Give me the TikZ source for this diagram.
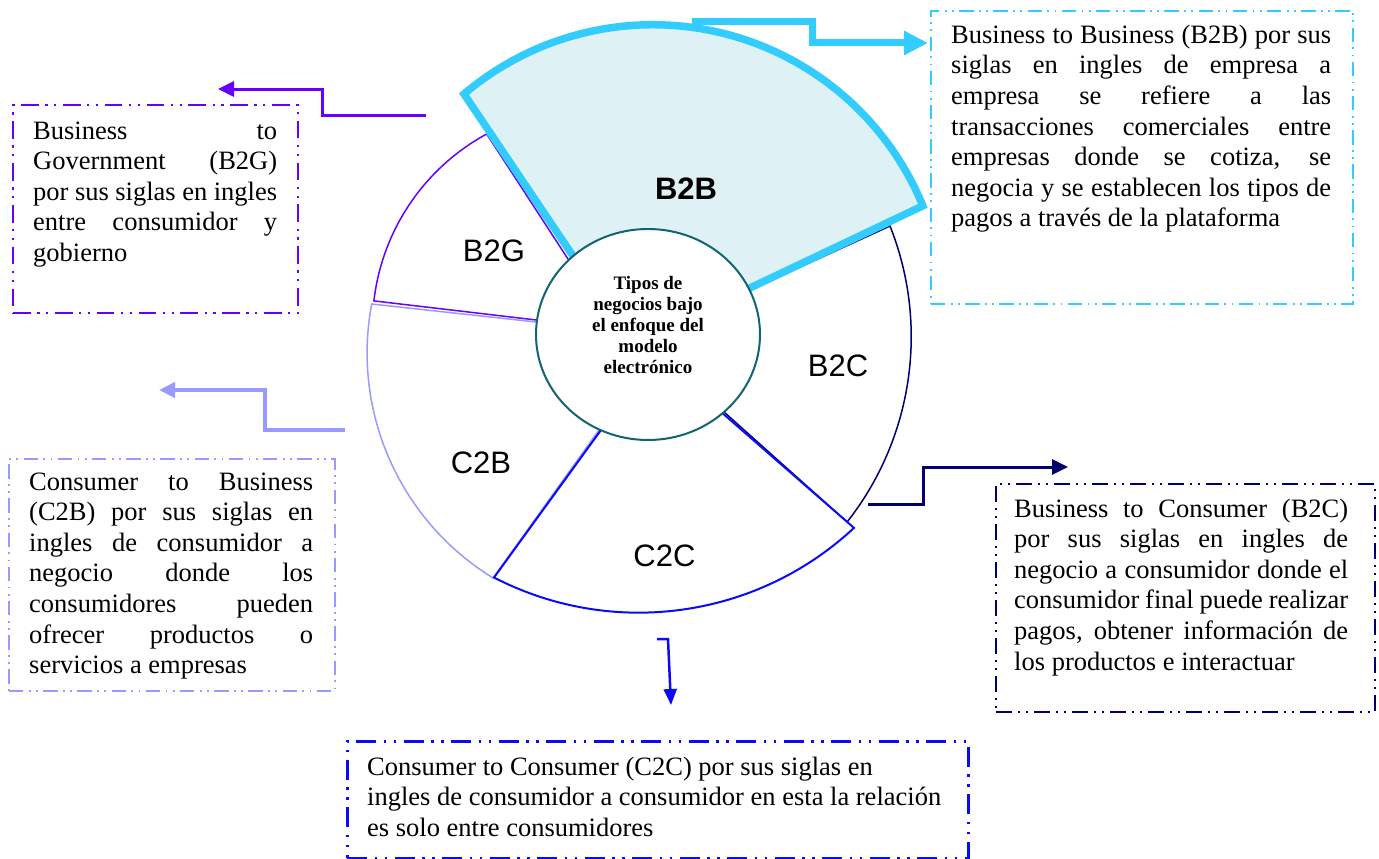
\documentclass[tikz,border=0pt]{standalone}
\usepackage{fontspec}
\setmainfont{Liberation Serif}
\newfontfamily\segfont{Liberation Sans}
\usetikzlibrary{arrows.meta,shapes.geometric,calc}

\definecolor{govline}{RGB}{102,0,255}
\definecolor{bizline}{RGB}{51,204,255}
\definecolor{bizfill}{RGB}{222,241,244}
\definecolor{custline}{RGB}{0,0,110}
\definecolor{cbline}{RGB}{153,153,255}
\definecolor{ccline}{RGB}{10,10,250}
\definecolor{hubline}{RGB}{18,100,112}

% one justified line, one ragged last line, one centred line
\newcommand\jrow[1]{\hbox to \hsize{#1}}
\newcommand\lrow[1]{\hbox{#1}}
\newcommand\crow[1]{\hbox to \hsize{\hss#1\hss}}

\begin{document}
\begin{tikzpicture}[x=1pt, y=-1pt,
  seg/.style={fill=white, line width=1.5pt, line join=miter},
  boxtext/.style={anchor=base west, inner sep=0pt, font=\fontsize{26.5}{30.6}\selectfont},
  seglabel/.style={inner sep=0pt, font=\segfont\fontsize{31}{31}\selectfont},
  infobox/.style={draw, rectangle, inner sep=0pt, anchor=north west},
  elbow/.style={line join=miter}
]
\useasboundingbox (0,0) rectangle (1379,859);

% ring segments
\draw[seg, draw=cbline] (371.7,304) arc[start angle=190.7, end angle=121.5, radius=263.9]
  -- (630.8,385.6) -- (601.7,329.2) -- cycle;
\draw[seg, draw=govline] (486.7,134) arc[start angle=-118.5, end angle=-173.4, radius=218.5]
  -- (600.8,327.6) -- (592.4,296.5) -- cycle;
\draw[seg, draw=custline] (890,226) arc[start angle=-21.7, end angle=38.2, radius=299.6]
  -- (687.1,379) -- (708,309.2) -- cycle;
\draw[seg, draw=ccline, line width=2pt] (494,577.5) arc[start angle=117.3, end angle=47.0, radius=315.6]
  -- (682.7,378.5) -- (631.8,387.5) -- cycle;
\draw[draw=bizline, fill=bizfill, line width=7.5pt, line join=miter] (464,94)
  arc[start angle=-130.3, end angle=-22.3, radius=291.9]
  -- (698.1,312.6) -- (603.1,300.7) -- cycle;

% hub
\node[ellipse, draw=hubline, line width=2pt, fill=white, minimum width=224pt,
  minimum height=211pt, inner sep=0pt] (hub) at (648,334.5) {};
\node[anchor=base, inner sep=0pt, font=\bfseries\fontsize{19}{21.2}\selectfont] (hubtext)
  at (648,289) {\vtop{\hsize=170pt
  \crow{Tipos de}\crow{negocios bajo}\crow{el enfoque del}\crow{modelo}\crow{electrónico}}};

% segment labels
\node[seglabel, font=\segfont\bfseries\fontsize{31}{31}\selectfont] (lb2b) at (686,188.5) {B2B};
\node[seglabel] (lb2g) at (494,251) {B2G};
\node[seglabel] (lb2c) at (838,365.5) {B2C};
\node[seglabel] (lc2b) at (481,462.5) {C2B};
\node[seglabel] (lc2c) at (664.5,556) {C2C};

% description boxes
\node[infobox, draw=govline, line width=2.2pt,
  dash pattern=on 17.6pt off 6.6pt on 2.2pt off 6.6pt on 2.2pt off 6.6pt,
  minimum width=285pt, minimum height=208pt] (b2gbox) at (12,104) {};
\node[boxtext] (b2gtext) at (33,139) {\vtop{\hsize=244pt
  \jrow{Business to}
  \jrow{Government (B2G)}
  \jrow{por sus siglas en ingles}
  \jrow{entre consumidor y}
  \lrow{gobierno}}};

\node[infobox, draw=bizline, line width=1.8pt,
  dash pattern=on 14.4pt off 5.4pt on 1.8pt off 5.4pt on 1.8pt off 5.4pt,
  minimum width=422pt, minimum height=293pt] (b2bbox) at (930,10) {};
\node[boxtext] (b2btext) at (951,43.4) {\vtop{\hsize=380pt
  \jrow{Business to Business (B2B) por sus}
  \jrow{siglas en ingles de empresa a}
  \jrow{empresa se refiere a las}
  \jrow{transacciones comerciales entre}
  \jrow{empresas donde se cotiza, se}
  \jrow{negocia y se establecen los tipos de}
  \lrow{pagos a través de la plataforma}}};

\node[infobox, draw=custline, line width=2pt,
  dash pattern=on 16pt off 6pt on 2pt off 6pt on 2pt off 6pt,
  minimum width=379pt, minimum height=228pt] (b2cbox) at (995,483) {};
\node[boxtext] (b2ctext) at (1014,517) {\vtop{\hsize=334pt
  \jrow{Business to Consumer (B2C)}
  \jrow{por sus siglas en ingles de}
  \jrow{negocio a consumidor donde el}
  \jrow{consumidor final puede realizar}
  \jrow{pagos, obtener información de}
  \lrow{los productos e interactuar}}};

\node[infobox, draw=cbline, line width=1.8pt,
  dash pattern=on 14.4pt off 5.4pt on 1.8pt off 5.4pt on 1.8pt off 5.4pt,
  minimum width=326pt, minimum height=232pt] (c2bbox) at (8,458) {};
\node[boxtext] (c2btext) at (29,490) {\vtop{\hsize=284pt
  \jrow{Consumer to Business}
  \jrow{(C2B) por sus siglas en}
  \jrow{ingles de consumidor a}
  \jrow{negocio donde los}
  \jrow{consumidores pueden}
  \jrow{ofrecer productos o}
  \lrow{servicios a empresas}}};

\node[infobox, draw=ccline, line width=2.5pt,
  dash pattern=on 20pt off 7.5pt on 2.5pt off 7.5pt on 2.5pt off 7.5pt,
  minimum width=621pt, minimum height=117pt] (c2cbox) at (346,740) {};
\node[boxtext] (c2ctext) at (367,775) {\vtop{\hsize=600pt
  \lrow{Consumer to Consumer (C2C) por sus siglas en}
  \lrow{ingles de consumidor a consumidor en esta la relación}
  \lrow{es solo entre consumidores}}};

% elbow connectors
\coordinate (b2g-src) at (426,115);
\coordinate (b2g-dst) at (218,89);
\draw[elbow, draw=govline, line width=3pt, -{Triangle[length=16pt,width=15pt]}]
  (b2g-src) -- ++(-104,0) |- (b2g-dst);

\coordinate (b2b-src) at (692,22);
\coordinate (b2b-dst) at (928,43);
\draw[elbow, draw=bizline, line width=7pt, -{Triangle[length=24pt,width=23pt]}]
  (b2b-src) -- ++(120,0) |- (b2b-dst);

\coordinate (b2c-src) at (868,504);
\coordinate (b2c-dst) at (1068,467);
\draw[elbow, draw=custline, line width=3pt, -{Triangle[length=16pt,width=15pt]}]
  (b2c-src) -- ++(55,0) |- (b2c-dst);

\coordinate (c2b-src) at (345,430);
\coordinate (c2b-dst) at (159,390);
\draw[elbow, draw=cbline, line width=4pt, -{Triangle[length=16pt,width=15pt]}]
  (c2b-src) -- ++(-80,0) |- (c2b-dst);

\coordinate (c2c-src) at (657,639);
\coordinate (c2c-dst) at (671,705);
\draw[elbow, draw=ccline, line width=2.5pt, -{Triangle[length=16pt,width=13pt]}]
  (c2c-src) -- ++(11,0) -- (c2c-dst);
\end{tikzpicture}
\end{document}
